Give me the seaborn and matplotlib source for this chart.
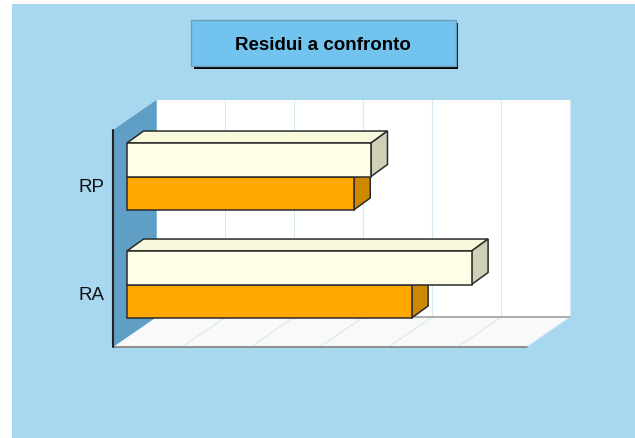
import pandas as pd
import matplotlib.pyplot as plt
import seaborn as sns
from matplotlib.patches import Polygon, Rectangle
from matplotlib.transforms import ScaledTranslation

categories = ["RP", "RA"]
series_names = ["Serie 1", "Serie 2"]
serie1_values = [3.54, 5.0]
serie2_values = [3.29, 4.13]
grid_steps = [0, 1, 2, 3, 4, 5, 6]

df = pd.DataFrame({
    "cat": categories * 2,
    "serie": [series_names[0]] * 2 + [series_names[1]] * 2,
    "val": serie1_values + serie2_values,
})

W, H = 635, 439
sns.set_theme(style="white")
plt.rcParams['font.family'] = ['Liberation Sans', 'DejaVu Sans']

fig = plt.figure(figsize=(W / 100, H / 100), dpi=100, facecolor="white")


def fig_rect(x0, y0, x1, y1, **kw):
    # pixel box (y from the top) on the figure, kept under the axes
    fig.add_artist(Rectangle((x0 / W, 1 - y1 / H), (x1 - x0) / W, (y1 - y0) / H,
                             transform=fig.transFigure, zorder=-1, **kw))


fig_rect(12, 5, W + 2, H + 2, fc="#a8d7f0", ec="none")
fig_rect(194, 24, 458, 69.5, fc="black", ec="none")
fig_rect(191, 20.5, 456, 67, fc="#73c3ef", ec="#6f9fb8", lw=1)
fig.text(323 / W, 1 - 45 / H, "Residui a confronto", ha="center", va="center",
         fontsize=13.5, fontweight="bold", color="black")

# front plane of the fake 3d box
ax = fig.add_axes([113 / W, 1 - 348 / H, 413.5 / W, 217 / H])
ax.patch.set_alpha(0)
for s in ax.spines.values():
    s.set_visible(False)

sns.barplot(data=df, y="cat", x="val", hue="serie", order=categories,
            hue_order=series_names, palette=["#ffffe8", "#ffa800"], orient="h",
            width=0.62, gap=0, dodge=True, legend=False, ax=ax,
            edgecolor="#2a2a2a", linewidth=1.1, saturation=1)

x_unit, y_unit = 68.9, 108.0
x_start = -14 / x_unit
ax.set_xlim(x_start, x_start + 6)
ax.set_ylim(1 + 62.5 / y_unit, -46.5 / y_unit)
ax.set_xlabel("")
ax.set_ylabel("")
ax.set_xticks([])
ax.set_yticks(range(len(categories)))
ax.set_yticklabels(categories, fontsize=13.5, color="#111111")
ax.tick_params(axis="y", length=0, pad=6)
for lab in ax.get_yticklabels():
    lab.set_transform(lab.get_transform() + ScaledTranslation(0, -8.5 / 100, fig.dpi_scale_trans))

wall_dx, wall_dy = 43.5 / x_unit, -30 / y_unit
bar_dx, bar_dy = 16.5 / x_unit, -12 / y_unit
y_top, y_bot = ax.get_ylim()[1], ax.get_ylim()[0]
x_end = x_start + 6


def poly(pts, z, **kw):
    ax.add_patch(Polygon(pts, closed=True, clip_on=False, zorder=z, **kw))


# back wall, floor, side wall
poly([(x_start + wall_dx, y_top + wall_dy), (x_end + wall_dx, y_top + wall_dy),
      (x_end + wall_dx, y_bot + wall_dy), (x_start + wall_dx, y_bot + wall_dy)],
     0.5, fc="white", ec="none")
poly([(x_start, y_bot), (x_end, y_bot), (x_end + wall_dx, y_bot + wall_dy),
      (x_start + wall_dx, y_bot + wall_dy)], 0.5, fc="#f9f9f9", ec="none")
poly([(x_start, y_top), (x_start + wall_dx, y_top + wall_dy),
      (x_start + wall_dx, y_bot + wall_dy), (x_start, y_bot)],
     0.6, fc="#5f9fc5", ec="none")

for k in grid_steps[1:]:
    gx = x_start + k
    ax.plot([gx, gx + wall_dx], [y_bot, y_bot + wall_dy], color="#d6e8f2", lw=0.8,
            clip_on=False, zorder=0.7)
    ax.plot([gx + wall_dx, gx + wall_dx], [y_bot + wall_dy, y_top + wall_dy], color="#d6e8f2",
            lw=0.8, clip_on=False, zorder=0.7)
ax.plot([x_start, x_end], [y_bot, y_bot], color="#808080", lw=1.2, clip_on=False, zorder=0.8)
ax.plot([x_start + wall_dx, x_end + wall_dx], [y_bot + wall_dy] * 2, color="#a0a0a0", lw=1.2,
        clip_on=False, zorder=0.8)
ax.plot([x_start, x_start], [y_top, y_bot], color="#222222", lw=1.5, clip_on=False, zorder=0.9)

# extrude the bars seaborn drew
shades = [("#f8f8dc", "#d0d0b8"), ("#f8f8dc", "#cc8800")]
base_z = [5, 3]
for i, cont in enumerate(ax.containers):
    for bar in cont:
        x0, y0 = bar.get_x(), bar.get_y()
        x1, y1 = x0 + bar.get_width(), y0 + bar.get_height()
        y_up, y_lo = min(y0, y1), max(y0, y1)
        top_c, side_c = shades[i]
        poly([(x0, y_up), (x1, y_up), (x1 + bar_dx, y_up + bar_dy), (x0 + bar_dx, y_up + bar_dy)],
             base_z[i], fc=top_c, ec="#2a2a2a", lw=1.1)
        poly([(x1, y_up), (x1 + bar_dx, y_up + bar_dy), (x1 + bar_dx, y_lo + bar_dy), (x1, y_lo)],
             base_z[i], fc=side_c, ec="#2a2a2a", lw=1.1)
        bar.set_zorder(base_z[i] + 1)

fig.savefig("out.png", dpi=100, facecolor=fig.get_facecolor())
